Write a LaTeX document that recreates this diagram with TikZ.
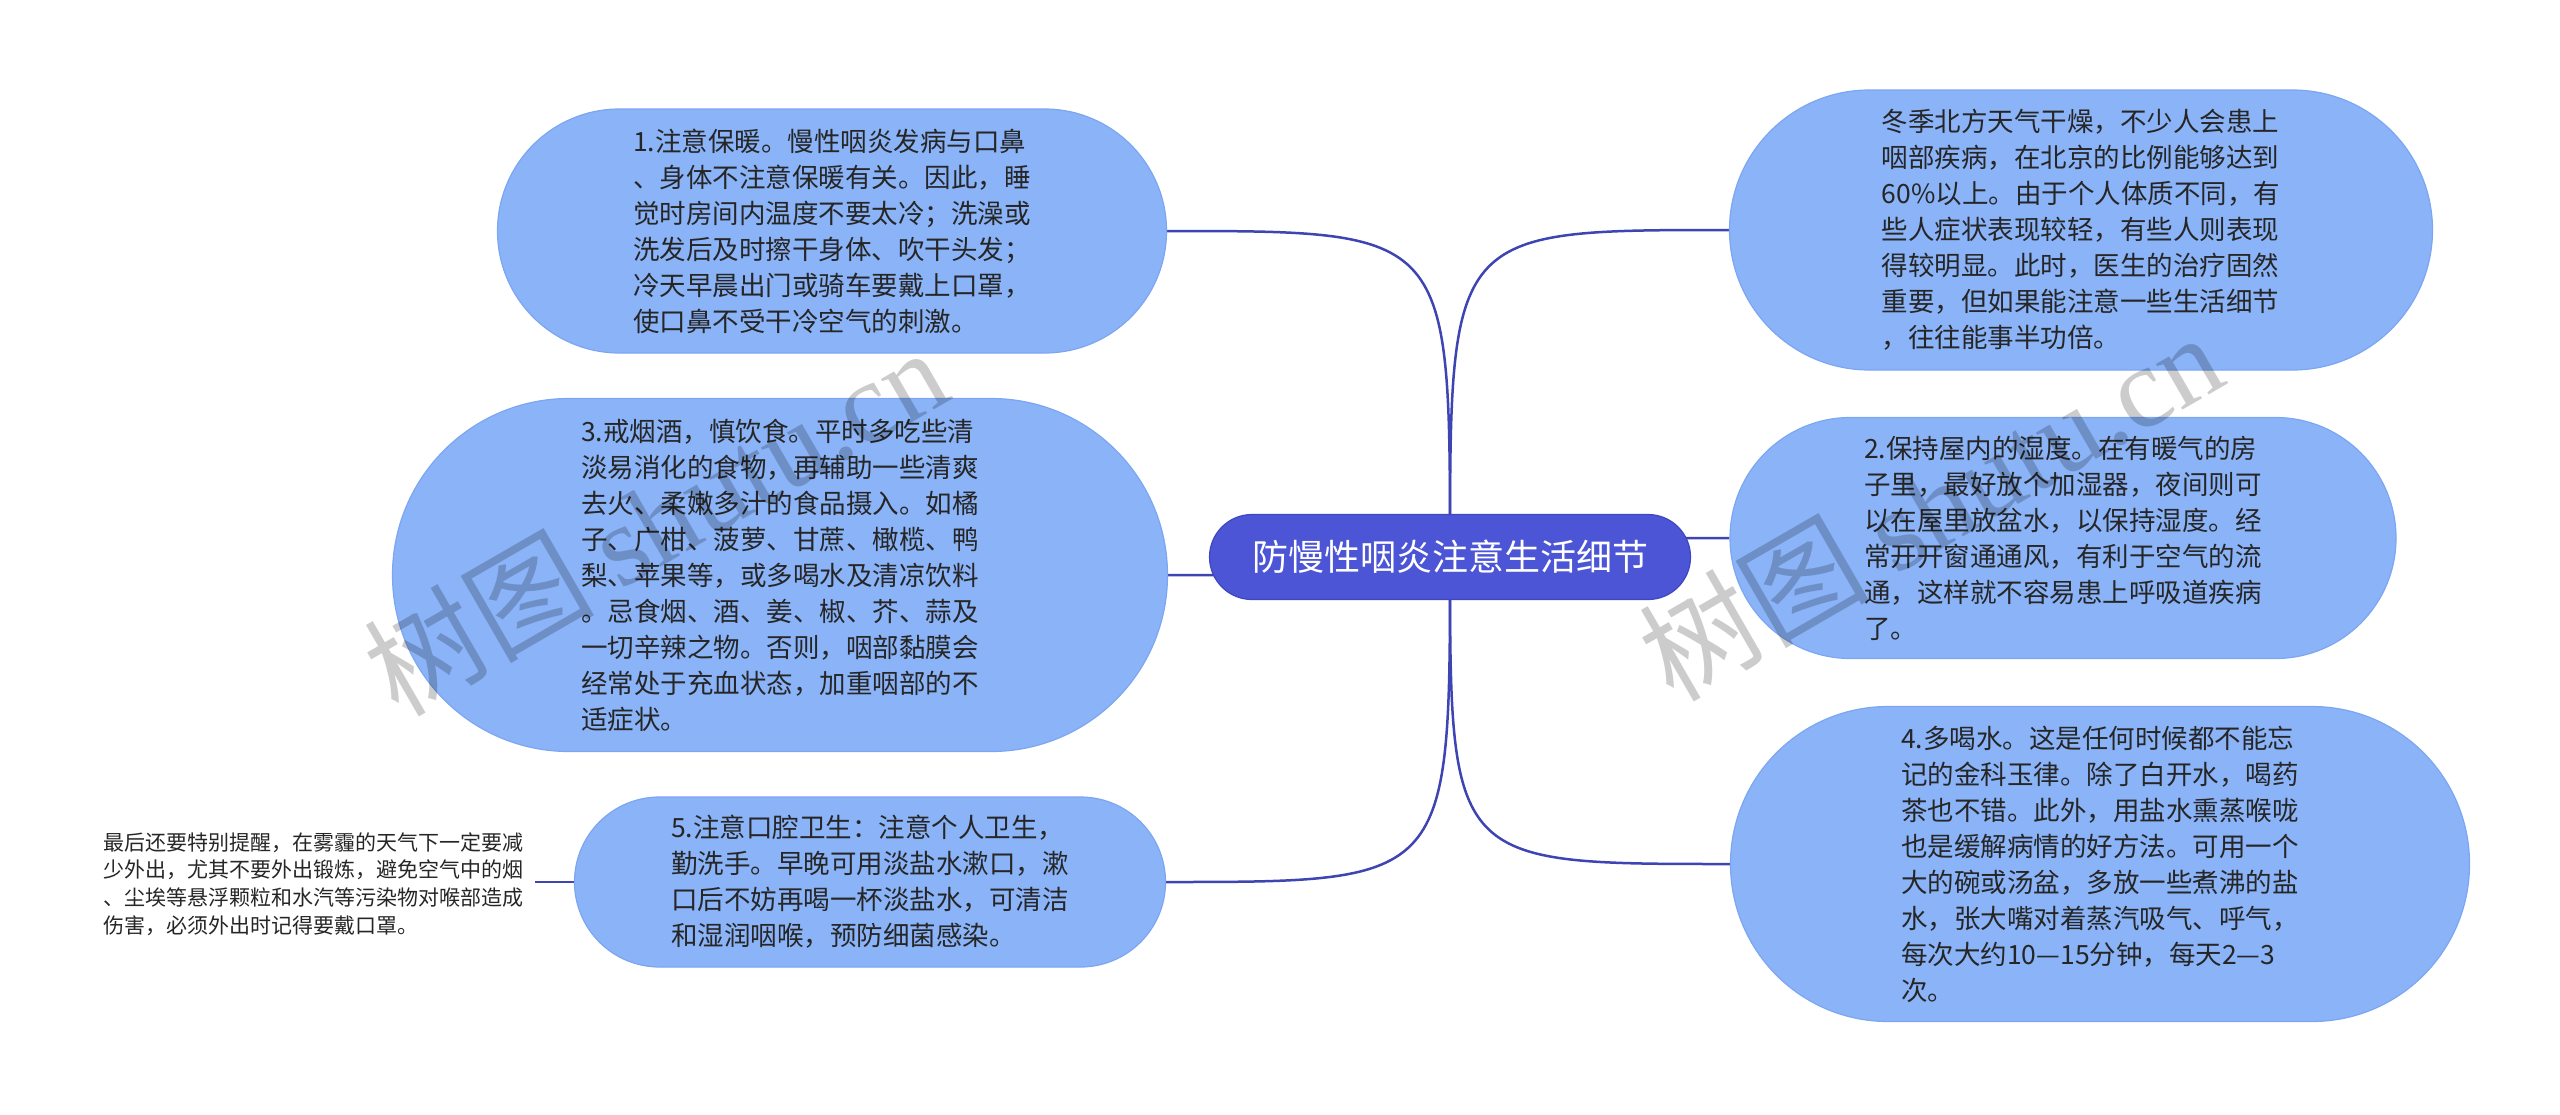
\documentclass[tikz,border=0pt]{standalone}
\usepackage{fontspec}
\newfontfamily\cjk{Noto Sans CJK SC}
\newfontfamily\wmserif{Liberation Serif}
\usetikzlibrary{backgrounds}
\definecolor{leaffill}{HTML}{8AB3F8}
\definecolor{leafline}{HTML}{7CA6F2}
\definecolor{rootfill}{HTML}{4B55D5}
\definecolor{rootline}{HTML}{3E46C0}
\definecolor{connline}{HTML}{3E44B2}
\definecolor{textcol}{HTML}{262626}
\begin{document}
\begin{tikzpicture}[x=1pt,y=-1pt,
  leaf/.style 2 args={draw=leafline, line width=1.2pt, fill=leaffill,
    minimum width=#1, minimum height=#2, rounded corners=0.5*#2,
    inner sep=0pt, align=left, text=textcol,
    font=\cjk\fontsize{26.5}{36}\selectfont},
  rootbox/.style={draw=rootline, line width=1.2pt, fill=rootfill,
    minimum width=481pt, minimum height=85pt, rounded corners=42.5pt,
    inner sep=0pt, text=white, font=\cjk\fontsize{36}{40}\selectfont},
  tipbox/.style={inner xsep=12pt, inner ysep=0pt, align=left, text=textcol,
    font=\cjk\fontsize{21}{27.7}\selectfont},
  conn/.style={draw=connline, line width=2.5pt},
  wm/.style={text=black, text opacity=0.2, inner sep=0pt}
]
\useasboundingbox (0,0) rectangle (2560,1114);

\node[rootbox] (root) at (1450,557) {防慢性咽炎注意生活细节};

\node[leaf={669pt}{244pt}] (n1) at (832,231) {1.注意保暖。慢性咽炎发病与口鼻\\、身体不注意保暖有关。因此，睡\\觉时房间内温度不要太冷；洗澡或\\洗发后及时擦干身体、吹干头发；\\冷天早晨出门或骑车要戴上口罩，\\使口鼻不受干冷空气的刺激。};

\node[leaf={775pt}{353pt}] (n3) at (780,575) {3.戒烟酒，慎饮食。平时多吃些清\\淡易消化的食物，再辅助一些清爽\\去火、柔嫩多汁的食品摄入。如橘\\子、广柑、菠萝、甘蔗、橄榄、鸭\\梨、苹果等，或多喝水及清凉饮料\\。忌食烟、酒、姜、椒、芥、蒜及\\一切辛辣之物。否则，咽部黏膜会\\经常处于充血状态，加重咽部的不\\适症状。};

\node[leaf={591pt}{170pt}] (n5) at (870,882) {5.注意口腔卫生：注意个人卫生，\\勤洗手。早晚可用淡盐水漱口，漱\\口后不妨再喝一杯淡盐水，可清洁\\和湿润咽喉，预防细菌感染。};

\node[tipbox, anchor=west] (tip) at (91,884) {最后还要特别提醒，在雾霾的天气下一定要减\\少外出，尤其不要外出锻炼，避免空气中的烟\\、尘埃等悬浮颗粒和水汽等污染物对喉部造成\\伤害，必须外出时记得要戴口罩。};

\node[leaf={703pt}{280pt}] (r1) at (2081,230) {冬季北方天气干燥，不少人会患上\\咽部疾病，在北京的比例能够达到\\60\%以上。由于个人体质不同，有\\些人症状表现较轻，有些人则表现\\得较明显。此时，医生的治疗固然\\重要，但如果能注意一些生活细节\\，往往能事半功倍。};

\node[leaf={666pt}{241pt}] (r2) at (2063,538) {2.保持屋内的湿度。在有暖气的房\\子里，最好放个加湿器，夜间则可\\以在屋里放盆水，以保持湿度。经\\常开开窗通通风，有利于空气的流\\通，这样就不容易患上呼吸道疾病\\了。};

\node[leaf={739pt}{315pt}] (r3) at (2100,864) {4.多喝水。这是任何时候都不能忘\\记的金科玉律。除了白开水，喝药\\茶也不错。此外，用盐水熏蒸喉咙\\也是缓解病情的好方法。可用一个\\大的碗或汤盆，多放一些煮沸的盐\\水，张大嘴对着蒸汽吸气、呼气，\\每次大约10—15分钟，每天2—3\\次。};

\begin{scope}[on background layer]
  \foreach \c in {n1,n3,n5}{
    \draw[conn] (root.center) .. controls (root.center |- \c.east) .. (\c.east);
  }
  \foreach \c in {r1,r2,r3}{
    \draw[conn] (root.center) .. controls (root.center |- \c.west) .. (\c.west);
  }
  \draw[conn] (n5.west) -- (n5.west -| tip.east);
\end{scope}

\node[wm, rotate=30] (wm1) at (655,520) {\cjk\fontsize{115}{120}\selectfont 树图 \wmserif shutu.cn};
\node[wm, rotate=30] (wm2) at (1930,505) {\cjk\fontsize{115}{120}\selectfont 树图 \wmserif shutu.cn};
\end{tikzpicture}
\end{document}
